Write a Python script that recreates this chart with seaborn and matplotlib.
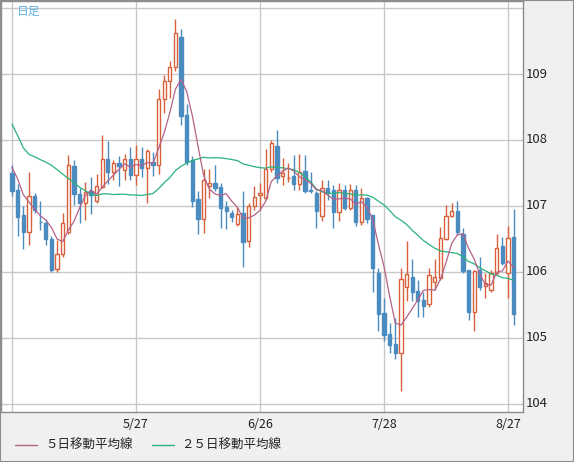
import pandas as pd
import numpy as np
import matplotlib
matplotlib.use("Agg")
import matplotlib.pyplot as plt
import seaborn as sns
from matplotlib.patches import Rectangle
from matplotlib.lines import Line2D
import matplotlib.transforms as mtransforms

# daily candles, 2020-04-27 .. 2020-08-28
open_ = [107.50, 107.24, 106.86, 106.60, 107.15, 106.76, 106.74, 106.50, 106.04, 106.27,
         106.60, 107.61, 107.18, 107.04, 107.22, 107.08, 107.29, 107.71, 107.52, 107.65,
         107.55, 107.71, 107.47, 107.71, 107.57, 107.67, 107.62, 108.62, 108.89, 109.11,
         109.56, 108.38, 107.69, 107.11, 106.81, 107.30, 107.35, 107.29, 106.98, 106.90,
         106.73, 106.89, 106.47, 107.00, 107.16, 107.12, 107.56, 107.91, 107.45, 107.42,
         107.45, 107.33, 107.53, 107.24, 107.20, 106.85, 107.27, 107.24, 106.91, 107.24,
         106.97, 107.24, 106.76, 107.12, 106.86, 105.99, 105.38, 105.06, 104.91, 104.77,
         105.77, 105.93, 105.71, 105.58, 105.51, 105.85, 105.91, 106.50, 106.85, 106.92,
         106.58, 106.03, 105.40, 106.03, 105.79, 105.72, 105.98, 106.39, 105.98, 106.53]
high = [107.62, 107.33, 107.00, 107.51, 107.19, 107.08, 106.80, 106.55, 106.48, 106.89,
        107.77, 107.70, 107.27, 107.37, 107.44, 107.49, 108.08, 107.98, 107.69, 107.76,
        107.79, 107.89, 107.93, 107.90, 107.87, 107.82, 108.77, 108.99, 109.20, 109.84,
        109.68, 108.55, 107.76, 107.23, 107.56, 107.56, 107.62, 107.35, 107.07, 106.94,
        106.98, 107.23, 107.04, 107.30, 107.35, 107.87, 108.00, 108.15, 107.72, 107.65,
        107.77, 107.79, 107.77, 107.52, 107.22, 107.39, 107.40, 107.32, 107.35, 107.32,
        107.33, 107.32, 107.28, 107.13, 106.86, 106.06, 105.61, 105.22, 105.31, 106.06,
        106.47, 106.20, 105.88, 105.70, 106.06, 106.19, 106.68, 107.02, 107.04, 107.08,
        106.66, 106.03, 106.03, 106.22, 105.98, 106.03, 106.58, 106.53, 106.70, 106.95]
low = [107.15, 106.55, 106.35, 106.41, 106.89, 106.64, 106.41, 106.00, 106.00, 106.23,
       106.58, 107.02, 106.74, 106.79, 106.88, 107.05, 107.27, 107.34, 107.39, 107.30,
       107.39, 107.40, 107.32, 107.44, 107.04, 107.46, 107.48, 108.41, 108.63, 109.04,
       108.23, 107.62, 106.98, 106.57, 106.59, 107.12, 107.22, 106.67, 106.65, 106.76,
       106.70, 106.08, 106.38, 106.94, 106.94, 107.10, 107.52, 107.35, 107.32, 107.37,
       107.24, 107.24, 107.19, 107.19, 106.66, 106.78, 107.09, 106.66, 106.78, 106.94,
       106.94, 106.69, 106.71, 106.74, 105.69, 105.11, 104.95, 104.77, 104.68, 104.19,
       105.56, 105.56, 105.32, 105.32, 105.47, 105.73, 105.88, 106.48, 106.83, 106.56,
       105.98, 105.27, 105.10, 105.73, 105.60, 105.70, 105.96, 106.10, 105.60, 105.20]
close = [107.22, 106.84, 106.60, 107.15, 106.94, 106.75, 106.50, 106.03, 106.28, 106.74,
         107.62, 107.18, 107.04, 107.21, 107.16, 107.30, 107.71, 107.52, 107.65, 107.60,
         107.71, 107.47, 107.71, 107.57, 107.84, 107.62, 108.62, 108.89, 109.10, 109.62,
         108.37, 107.67, 107.08, 106.80, 107.40, 107.35, 107.28, 106.97, 106.93, 106.83,
         106.88, 106.46, 107.00, 107.14, 107.19, 107.56, 107.96, 107.43, 107.50, 107.43,
         107.33, 107.52, 107.22, 107.22, 106.93, 107.27, 107.19, 106.91, 107.24, 106.97,
         107.24, 106.76, 107.12, 106.81, 106.06, 105.37, 105.05, 104.89, 104.77, 105.89,
         105.97, 105.70, 105.56, 105.49, 105.95, 105.92, 106.51, 106.85, 106.92, 106.61,
         106.02, 105.40, 106.02, 105.78, 105.83, 105.98, 106.37, 106.13, 106.52, 105.36]
# closes before the first drawn day, needed for the moving averages
prior_close = [111.2, 111.2, 109.6, 107.9, 107.8, 107.5, 107.2, 107.9, 108.5, 109.2,
               108.8, 108.8, 108.5, 108.5, 107.8, 107.1, 107.5, 107.9, 107.5, 107.7,
               107.7, 107.8, 107.7, 107.5]

dates = pd.bdate_range("2020-04-27", "2020-08-28")
grid_dates = ["2020-04-27", "2020-05-27", "2020-06-26", "2020-07-28", "2020-08-27"]
grid_labels = ["", "5/27", "6/26", "7/28", "8/27"]
price_ticks = [104, 105, 106, 107, 108, 109, 110]
price_labels = ["104", "105", "106", "107", "108", "109", ""]

df = pd.DataFrame({"date": dates, "open": open_, "high": high, "low": low, "close": close})
df["i"] = np.arange(len(df))
allc = pd.Series(prior_close + close)
n0 = len(prior_close)
df["ma5"] = allc.rolling(5).mean().iloc[n0:].values
df["ma25"] = allc.rolling(25).mean().iloc[n0:].values
df["up"] = df["close"] >= df["open"]

UP = "#d8613c"
DOWN = "#4a8cc0"
MA5_C = "#b4628a"
MA25_C = "#2ab27a"

sns.set_style("white")
plt.rcParams["font.family"] = ["Noto Sans CJK JP", "DejaVu Sans"]

W, H = 574, 462
fig = plt.figure(figsize=(W / 100, H / 100), dpi=100, facecolor="#f0f0f0")
ax = fig.add_axes([1 / W, 50 / H, 522 / W, 411 / H])
ax.set_facecolor("white")

px = 124 / 22  # pixels per trading day
ax.set_xlim((1 - 12) / px, (523 - 12) / px)
ax.set_ylim(110 - 404 / 66, 110 + 7 / 66)

# grid
grid_idx = [int(np.where(df["date"] == pd.Timestamp(d))[0][0]) for d in grid_dates]
for gi in grid_idx:
    ax.axvline(gi, color="#c8c8c8", lw=1.0, zorder=0)
for p in price_ticks:
    ax.axhline(p, color="#c8c8c8", lw=1.0, zorder=0)

# candles
bw = 3.3 / px
for _, r in df.iterrows():
    c = UP if r["up"] else DOWN
    ax.vlines(r["i"], r["low"], r["high"], color=c, lw=1.0, zorder=2)
    b = min(r["open"], r["close"])
    h = max(abs(r["close"] - r["open"]), 0.004)
    ax.bar(r["i"], h, bottom=b, width=bw, color="white" if r["up"] else c,
           edgecolor=c, linewidth=1.0, zorder=3)

sns.lineplot(data=df, x="i", y="ma25", ax=ax, color=MA25_C, lw=0.9, zorder=4, legend=False)
sns.lineplot(data=df, x="i", y="ma5", ax=ax, color=MA5_C, lw=0.9, zorder=4, legend=False)

ax.set_xticks([])
ax.set_yticks([])
ax.set_xlabel("")
ax.set_ylabel("")
for s in ax.spines.values():
    s.set_color("#8c8c8c")
    s.set_linewidth(1.0)

# labels
tx = mtransforms.blended_transform_factory(ax.transData, ax.transAxes)
for gi, lab in zip(grid_idx, grid_labels):
    if lab:
        ax.text(gi, -12 / 411, lab, transform=tx, ha="center", va="center",
                fontsize=9, color="#222222", clip_on=False)
ty = mtransforms.blended_transform_factory(ax.transAxes, ax.transData)
for p, lab in zip(price_ticks, price_labels):
    if lab:
        ax.text(525 / 522, p, lab, transform=ty, ha="left", va="center",
                fontsize=9.5, color="#222222", clip_on=False)

ax.text(16 / 522, 1 - 10 / 411, "日足", transform=ax.transAxes, ha="left", va="center",
        fontsize=8.5, color="#5ab4e6")

# legend
ly = 1 - 445 / H
fig.add_artist(Line2D([15 / W, 37 / W], [ly, ly], color=MA5_C, lw=1.0))
fig.text(45 / W, ly, "５日移動平均線", ha="left", va="center", fontsize=9, color="#222222")
fig.add_artist(Line2D([152 / W, 174 / W], [ly, ly], color=MA25_C, lw=1.0))
fig.text(181 / W, ly, "２５日移動平均線", ha="left", va="center", fontsize=9, color="#222222")

fig.add_artist(Rectangle((0, 0), 1, 1, transform=fig.transFigure, fill=False,
                         edgecolor="#8c8c8c", lw=1.5))

fig.savefig("out.png", dpi=100, facecolor=fig.get_facecolor())
